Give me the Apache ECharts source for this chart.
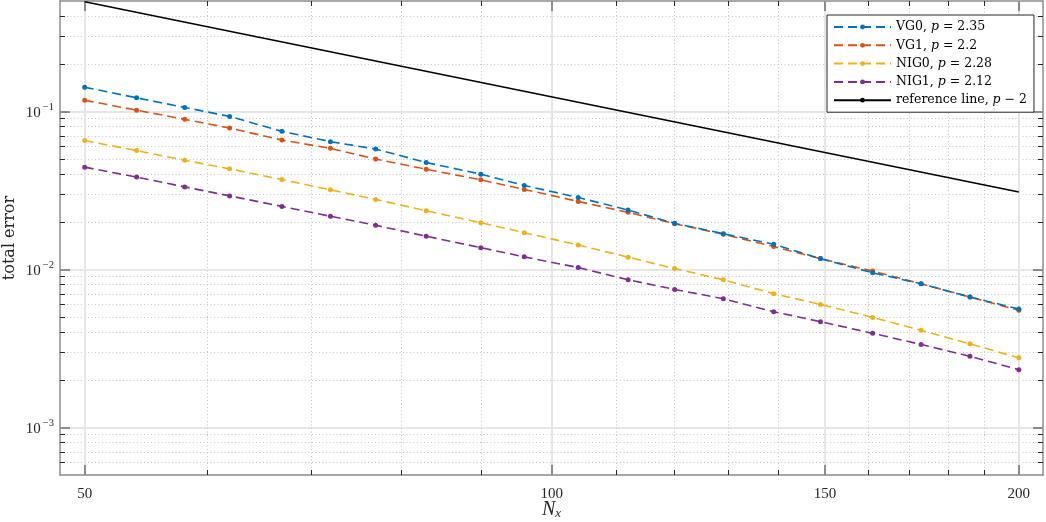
<!DOCTYPE html>
<html>
<head>
<meta charset="utf-8">
<title>total error vs N_x</title>
<script src="https://cdn.jsdelivr.net/npm/echarts@6.0.0/dist/echarts.min.js"></script>
<style>
  html, body { margin: 0; padding: 0; background: #fff; }
  #chart { width: 1046px; height: 522px; }
</style>
</head>
<body>
<div id="chart"></div>
<script>
// grid sizes
var nx = [50, 54, 58, 62, 67, 72, 77, 83, 90, 96, 104, 112, 120, 129, 139, 149, 161, 173, 186, 200];
// total error per model
var vg0  = [0.1423, 0.1220, 0.1060, 0.0930, 0.0748, 0.0644, 0.0578, 0.0475, 0.0401, 0.0340,
            0.02856, 0.02375, 0.01958, 0.01684, 0.01443, 0.01171, 0.00952, 0.00811, 0.00669, 0.00562];
var vg1  = [0.1178, 0.1019, 0.0891, 0.0785, 0.0659, 0.0584, 0.0500, 0.0431, 0.0369, 0.0321,
            0.02695, 0.02298, 0.01947, 0.01670, 0.01395, 0.01171, 0.00976, 0.00811, 0.00669, 0.00551];
var nig0 = [0.0654, 0.0565, 0.0491, 0.0433, 0.0371, 0.0319, 0.02775, 0.02351, 0.01975, 0.01709,
            0.01429, 0.01196, 0.01013, 0.00860, 0.00702, 0.00601, 0.00497, 0.00412, 0.00338, 0.00276];
var nig1 = [0.0444, 0.0384, 0.0333, 0.0292, 0.02506, 0.02169, 0.01903, 0.01622, 0.01374, 0.01201,
            0.01028, 0.00860, 0.00747, 0.00653, 0.00540, 0.00467, 0.00394, 0.00335, 0.00282, 0.00232];
// reference line (slope -2)
var refN   = [50, 200];
var refErr = [0.495, 0.0309];

var seriesNames = ['VG0, p = 2.35', 'VG1, p = 2.2', 'NIG0, p = 2.28', 'NIG1, p = 2.12'];
var refName = 'reference line, p \u2212 2';

// ticks
var xMajor = [50, 100, 150, 200];
var xMinor = [60, 70, 80, 90, 110, 120, 130, 140, 160, 170, 180, 190];
var yMajor = [0.001, 0.01, 0.1];
var yMinor = [0.0006, 0.0007, 0.0008, 0.0009,
              0.002, 0.003, 0.004, 0.005, 0.006, 0.007, 0.008, 0.009,
              0.02, 0.03, 0.04, 0.05, 0.06, 0.07, 0.08, 0.09,
              0.2, 0.3, 0.4];
var xRange = [48.2, 207.3];
var yRange = [0.0005, 0.5];

var colors = ['#0072BD', '#D95319', '#EDB120', '#7E2F8E'];
var serif = 'Liberation Serif';
var axisGray = '#8c8c8c';
var textColor = '#262626';

function pairs(xs, ys) {
  return xs.map(function (x, i) { return [x, ys[i]]; });
}

// one log axis layer: major (solid grid, long gray ticks) or minor (dotted grid, short dark ticks)
function layer(pos, range, ticks, major, grid) {
  return {
    type: 'log',
    logBase: 10,
    position: pos,
    min: range[0],
    max: range[1],
    axisLine: { show: major, lineStyle: { color: axisGray, width: 1.5 } },
    axisTick: {
      show: true,
      inside: true,
      customValues: ticks,
      length: major ? 10 : 5,
      lineStyle: { color: major ? axisGray : textColor, width: major ? 2 : 1 }
    },
    axisLabel: { show: false },
    splitLine: {
      show: grid,
      lineStyle: major
        ? { color: '#e6e6e6', width: 2 }
        : { color: '#c4c4c4', width: 1, type: [1, 2.5] }
    },
    minorTick: { show: false },
    minorSplitLine: { show: false }
  };
}

var xMain = layer('bottom', xRange, xMajor, true, true);
xMain.axisLabel = {
  show: true,
  customValues: xMajor,
  margin: 12,
  color: textColor,
  fontFamily: serif,
  fontSize: 15
};
xMain.name = '{n|N}{s|x}';
xMain.nameLocation = 'middle';
xMain.nameGap = 25;
xMain.nameMoveOverlap = false;
xMain.nameTextStyle = {
  color: textColor,
  rich: {
    n: { fontFamily: serif, fontStyle: 'italic', fontSize: 20, lineHeight: 20, verticalAlign: 'top', color: textColor },
    s: { fontFamily: serif, fontStyle: 'italic', fontSize: 13, lineHeight: 13, padding: [9, 0, 0, 0], verticalAlign: 'bottom', color: textColor }
  }
};

var yMain = layer('left', yRange, yMajor, true, true);
yMain.axisLabel = {
  show: true,
  customValues: yMajor,
  margin: 6,
  formatter: function (v) {
    var e = Math.round(Math.log10(v));
    return '{b|10}{s|' + (e < 0 ? '\u2212' + (-e) : e) + '}';
  },
  rich: {
    b: { fontFamily: serif, fontSize: 15, lineHeight: 19, verticalAlign: 'bottom', color: textColor },
    s: { fontFamily: serif, fontSize: 10.5, lineHeight: 10, padding: [0, 0, 0, 2], verticalAlign: 'top', color: textColor }
  }
};
yMain.name = 'total error';
yMain.nameLocation = 'middle';
yMain.nameGap = 42;
yMain.nameMoveOverlap = false;
yMain.nameTextStyle = { fontFamily: 'DejaVu Serif', fontSize: 16, color: textColor };

var chart = echarts.init(document.getElementById('chart'), null, { renderer: 'canvas' });

var series = [vg0, vg1, nig0, nig1].map(function (vals, i) {
  return {
    name: seriesNames[i],
    type: 'line',
    data: pairs(nx, vals),
    color: colors[i],
    symbol: 'circle',
    symbolSize: 5,
    showSymbol: true,
    lineStyle: { width: 1.6, type: [9, 5], color: colors[i] },
    itemStyle: { color: colors[i] },
    animation: false,
    z: 3 + (3 - i)
  };
});
series.push({
  name: refName,
  type: 'line',
  data: pairs(refN, refErr),
  color: '#000',
  symbol: 'none',
  lineStyle: { width: 1.5, color: '#000' },
  animation: false,
  z: 3
});

chart.setOption({
  animation: false,
  backgroundColor: '#fff',
  grid: { left: 60, right: 3, top: 1, bottom: 47, outerBoundsMode: 'none', containLabel: false },
  xAxis: [
    xMain,
    layer('bottom', xRange, xMinor, false, true),
    layer('top', xRange, xMajor, true, false),
    layer('top', xRange, xMinor, false, false)
  ],
  yAxis: [
    yMain,
    layer('left', yRange, yMinor, false, true),
    layer('right', yRange, yMajor, true, false),
    layer('right', yRange, yMinor, false, false)
  ],
  legend: {
    data: seriesNames.concat([refName]),
    orient: 'vertical',
    left: 827,
    top: 15,
    padding: [5, 7, 5, 6],
    itemWidth: 57,
    itemHeight: 6,
    itemGap: 4.3,
    backgroundColor: '#fff',
    borderColor: textColor,
    borderWidth: 1,
    borderRadius: 0,
    formatter: function (name) {
      return name.replace(', p ', ', {i|p} ');
    },
    textStyle: {
      fontFamily: 'DejaVu Serif',
      fontSize: 12.5,
      lineHeight: 14,
      color: '#000',
      rich: {
        i: { fontFamily: 'DejaVu Serif', fontStyle: 'italic', fontSize: 12.5, lineHeight: 14, color: '#000' }
      }
    }
  },
  series: series
});
</script>
</body>
</html>
